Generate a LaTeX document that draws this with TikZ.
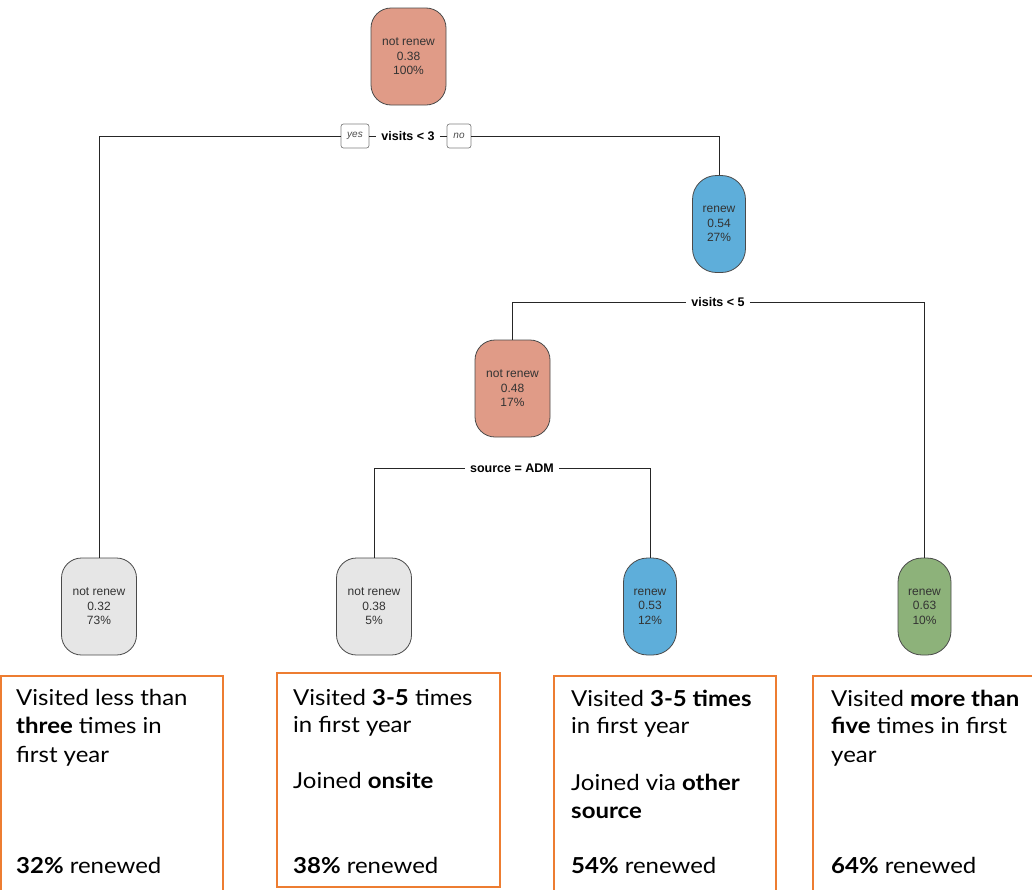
\documentclass[tikz,border=0pt]{standalone}
\usepackage{fontspec}
\setmainfont{Liberation Sans}
\newfontfamily\boxfont[FakeStretch=1.09]{Lato}
\definecolor{salmon}{HTML}{E09B87}
\definecolor{skyb}{HTML}{5EAEDA}
\definecolor{lgrey}{HTML}{E6E6E6}
\definecolor{sage}{HTML}{8DB27A}
\definecolor{orng}{HTML}{ED7D31}
\definecolor{bord}{HTML}{4A4A4A}
\tikzset{
  tnode/.style={draw=bord, line width=0.8pt, align=center, inner sep=0pt,
    font=\fontsize{12}{14.5}\selectfont, text=black!80},
  wide/.style={tnode, minimum width=75pt, minimum height=97pt, rounded corners=20pt},
  narrow/.style={tnode, minimum width=53pt, minimum height=97pt, rounded corners=24pt},
  split/.style={fill=white, inner xsep=5pt, inner ysep=2pt, font=\fontsize{12.5}{14}\bfseries\selectfont},
  yn/.style={draw=bord!70, line width=0.7pt, rounded corners=2.5pt, fill=white, inner sep=0pt,
    minimum height=24pt, font=\fontsize{10}{10}\itshape\selectfont, text=black!70},
  conn/.style={draw=black!85, line width=0.7pt},
  obox/.style={draw=orng, line width=2pt},
  bt/.style={anchor=base west, inner sep=0pt, font=\boxfont\fontsize{22}{26}\selectfont},
}
\begin{document}
\begin{tikzpicture}[x=1pt, y=-1pt]
\useasboundingbox (0,0) rectangle (1032,889);
% tree nodes
\node[wide, fill=salmon] (n1) at (408.5,56.5) {not renew\\0.38\\100\%};
\node[narrow, fill=skyb] (n3) at (719,224) {renew\\0.54\\27\%};
\node[wide, fill=salmon] (n6) at (512.5,388.5) {not renew\\0.48\\17\%};
\node[wide, fill=lgrey] (n2) at (99,606.5) {not renew\\0.32\\73\%};
\node[wide, fill=lgrey] (n12) at (374,606.5) {not renew\\0.38\\5\%};
\node[narrow, fill=skyb] (n13) at (650,606.5) {renew\\0.53\\12\%};
\node[narrow, fill=sage] (n7) at (924.5,606.5) {renew\\0.63\\10\%};
% split labels
\node[split] (s1) at (408,136) {visits < 3};
\node[yn, minimum width=28pt] (yes) at (355,136) {yes};
\node[yn, minimum width=24pt] (no) at (459,136) {no};
\node[split] (s2) at (718,302) {visits < 5};
\node[split] (s3) at (512,468) {source = ADM};
% connectors
\draw[conn] (n2.north) |- (yes.west);
\draw[conn] (yes.east) -- (s1.west);
\draw[conn] (s1.east) -- (no.west);
\draw[conn] (no.east) -| (n3.north);
\draw[conn] (n6.north) |- (s2.west);
\draw[conn] (s2.east) -| (n7.north);
\draw[conn] (n12.north) |- (s3.west);
\draw[conn] (s3.east) -| (n13.north);
% orange boxes
\draw[obox] (1,676) rectangle (223,905);
\draw[obox] (277,673) rectangle (500,887);
\draw[obox] (554,676) rectangle (776,905);
\draw[obox] (813,676) rectangle (1045,905);
% box texts
\node[bt] (a1) at (16,705) {Visited less than};
\node[bt] (a2) at (16,733) {\textbf{three} times in};
\node[bt] (a3) at (16,762) {first year};
\node[bt] (a4) at (16,873) {\textbf{32\%} renewed};
\node[bt] (b1) at (293,705) {Visited \textbf{3-5} times};
\node[bt] (b2) at (293,732) {in first year};
\node[bt] (b3) at (293,788) {Joined \textbf{onsite}};
\node[bt] (b4) at (293,873) {\textbf{38\%} renewed};
\node[bt] (c1) at (571,706) {Visited \textbf{3-5 times}};
\node[bt] (c2) at (571,733) {in first year};
\node[bt] (c3) at (571,790) {Joined via \textbf{other}};
\node[bt] (c4) at (571,818) {\textbf{source}};
\node[bt] (c5) at (571,873) {\textbf{54\%} renewed};
\node[bt] (d1) at (831,706) {Visited \textbf{more than}};
\node[bt] (d2) at (831,733) {\textbf{five} times in first};
\node[bt] (d3) at (831,762) {year};
\node[bt] (d4) at (831,873) {\textbf{64\%} renewed};
\end{tikzpicture}
\end{document}
